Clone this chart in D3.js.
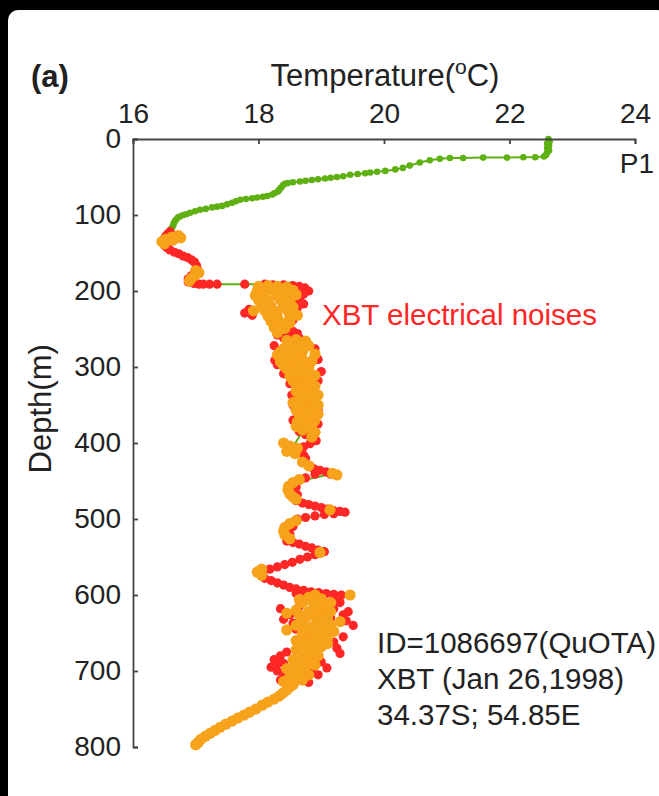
<!DOCTYPE html>
<html>
<head>
<meta charset="utf-8">
<script src="https://cdn.jsdelivr.net/npm/d3@7/dist/d3.min.js"></script>
<style>
  html, body { margin: 0; padding: 0; background: #000; }
  svg { display: block; }
  text { font-family: "Liberation Sans", Arial, sans-serif; fill: #222; }
  .axis path, .axis line { stroke: #444; stroke-width: 1.8; }
  .axis text { font-size: 28px; fill: #222; font-family: "Liberation Sans", Arial, sans-serif; }
</style>
</head>
<body>
<div id="chart"></div>
<script>
// Temperature ticks (top axis) and depth ticks (left axis)
var tempTicks = [16, 18, 20, 22, 24]
var depthTicks = [0, 100, 200, 300, 400, 500, 600, 700, 800]

// Full XBT profile, [temperature degC, depth m]
var profile = [
  [22.62,0],[22.64,3],[22.6,6],[22.63,9],[22.6,12],[22.63,15],[22.6,18],[22.58,21],[22.55,23],
  [22.41,24],[22.22,24],[21.96,24.5],[21.58,24.5],[21.26,25],[21.05,25],
  [20.89,26],[20.73,28],[20.57,31],[20.41,35],[20.3,38],[20.18,40],[20.02,42],[19.89,43],
  [19.78,44],[19.7,45],[19.58,46],[19.46,47],[19.35,49],[19.25,50],[19.15,51],[19.06,52],
  [18.95,53],[18.85,54],[18.75,55],[18.66,56],[18.55,57],[18.47,58],[18.42,59],[18.39,61],
  [18.36,64],[18.33,67],[18.31,69],[18.26,71],[18.22,73],[18.14,75],[18.07,76],[17.98,77],
  [17.9,78],[17.8,79],[17.71,80],[17.64,82],[17.58,84],[17.5,86],[17.42,88],[17.34,89],
  [17.26,90],[17.16,92],[17.07,93],[16.99,95],[16.91,97],[16.85,99],[16.8,100],[16.75,102],
  [16.72,103],[16.69,106],[16.67,108],[16.65,111],[16.64,114],[16.62,117],[16.6,119],[16.57,122],
  [16.5,130],[16.5,140],[16.7,150],[16.95,162],[17.0,172],[16.92,185],[17.1,191],[17.8,191],
  [18.5,192],[18.3,200],[18.15,215],[18.3,235],[18.45,255],[18.55,275],[18.65,300],[18.75,330],
  [18.8,360],[18.7,385],[18.55,405],[18.75,425],[19.2,440],[18.55,452],[18.5,470],[19.3,490],
  [18.6,501],[18.42,515],[18.5,530],[19.0,543],[18.0,570],[18.3,586],[19.45,600],[18.9,612],
  [18.85,640],[18.9,665],[18.7,690],[18.6,705],[18.5,720],[18.25,737],[17.96,750],[17.67,762],
  [17.39,774],[17.15,786],[17.0,797]
]

// Samples flagged as electrical noise (red)
var noiseRed = [
  [16.59,122],[16.55,125],[16.52,128],[16.49,132],[16.48,136],[16.5,140],[16.54,143],[16.59,146],
  [16.66,149],[16.73,151],[16.8,154],[16.87,156],[16.93,159],[16.98,162],[17.01,166],[17.02,170],
  [16.98,175],[16.93,180],[16.88,184],[16.88,188],[16.97,190],[17.05,191],[17.12,191],[17.22,191],
  [17.34,191],[17.78,191],[18.1,191],
  [18.23,192],[18.4,192],[18.55,193],[18.65,194],[18.74,196],[18.8,200],[18.72,204],[18.66,208],
  [18.6,212],[18.72,217],[18.62,222],[17.85,224],[17.78,229],[17.9,232],[18.55,238],[18.35,246],
  [18.45,250],[18.55,253],[18.62,256],[18.5,259],[18.65,262],[18.4,262],[18.3,258],
  [18.25,272],[18.9,276],[18.95,290],[18.26,291],[18.3,297],[19.0,306],[18.4,309],[18.95,318],
  [18.5,322],[18.53,337],[18.55,350],[18.95,356],[18.55,370],[18.95,375],
  [18.65,385],[18.75,389],[18.85,393],[18.92,397],[18.82,401],[18.72,405],[18.72,416],[18.75,420],
  [18.82,430],[18.88,434],[18.98,436],[19.08,438],[19.15,441],[18.9,441],[18.75,446],[18.6,458],
  [18.62,468],
  [18.6,476],[18.7,479],[18.8,481],[18.9,483],[19.0,485],[19.1,487],[19.2,489],[19.3,490],
  [19.38,491],[19.2,493],[19.05,494],[18.9,496],[18.75,498],[18.62,500],[18.55,510],[18.5,520],
  [18.45,529],[18.55,531],[18.65,533],[18.75,536],[18.85,538],[18.95,541],[19.05,543],
  [18.9,547],[18.78,550],[18.66,553],[18.54,557],[18.42,560],[18.3,563],[18.18,566],[18.07,569],
  [18.1,578],[18.2,581],[18.3,584],[18.4,587],[18.5,590],[18.6,592],[18.72,594],[18.84,596],
  [18.96,597],[19.08,598],[19.2,599],[19.32,600],
  [18.6,598],[18.75,603],[19.2,607],[19.3,610],[18.65,615],[19.2,618],[19.43,622],[18.5,626],
  [19.15,630],[18.55,637],[19.51,640],[19.2,648],[19.35,655],[18.75,658],[19.2,662],[19.25,670],
  [19.3,677],[18.35,680],[18.25,685],[18.4,690],[18.6,694],[18.2,695],[19.09,696],[18.85,698],
  [18.3,700],[18.4,705],[18.65,710],[18.35,712],[18.8,715],[18.45,720],
  [18.35,618],[18.4,632],[19.0,620],[19.35,626],[19.4,634],[18.9,628],[19.1,640],[18.6,645],
  [18.45,675],[18.3,690],[19.0,688],[18.95,705]
]

// Samples flagged by the second check (orange)
var noiseOrange = [
  [16.72,127],[16.62,129],[16.52,132],[16.46,135],[16.5,138],[16.64,133],[16.76,130],
  [17.0,173],[17.05,176],[16.98,180],[16.92,184],[16.9,187],
  [18.0,194],[18.15,193],[18.3,194],[18.45,195],[17.98,200],[18.1,199],[18.25,200],[18.4,201],
  [18.55,199],[17.95,206],[18.1,206],[18.3,207],[18.45,206],[18.6,205],[18.0,212],[18.15,213],
  [18.35,212],[18.5,213],[18.05,219],[18.2,220],[18.4,219],[18.55,221],[17.92,226],[18.1,226],
  [18.3,227],[18.48,228],[18.15,233],[18.3,234],[18.5,235],[18.62,232],[18.2,240],[18.35,241],
  [18.5,242],[18.25,248],[18.42,249],[18.3,255],
  [18.45,265],[18.6,264],[18.75,266],[18.5,268],[18.65,270],[18.8,272],[18.4,276],[18.55,278],
  [18.7,280],[18.35,280],[18.9,283],[18.3,284],[18.45,286],[18.6,288],[18.7,290],[18.85,292],
  [18.35,293],[18.5,295],[18.65,297],[18.4,298],[18.8,300],[18.55,300],[18.45,302],[18.7,302],
  [18.6,305],[18.75,307],[18.9,311],[18.5,312],[18.65,315],[18.8,318],[18.55,318],[18.7,320],
  [18.85,322],[18.6,323],[18.75,326],[18.9,325],[18.65,329],[18.8,330],
  [18.6,332],[18.8,334],[18.95,337],[18.7,338],[18.65,343],[18.85,345],[18.55,347],[18.75,348],
  [18.95,350],[18.7,352],[18.9,355],[18.6,357],[18.8,358],[18.75,360],[18.65,362],[18.95,362],
  [18.85,365],[18.7,367],[18.9,370],[18.62,372],[18.75,372],[18.85,376],[18.6,378],[18.8,380],
  [18.7,383],
  [18.9,386],[18.85,392],[18.4,400],[18.5,404],[18.62,407],[18.45,411],[18.58,414],[18.7,425],
  [18.8,430],[19.18,440],[19.25,442],
  [18.65,448],[18.55,452],[18.48,457],[18.47,462],[18.5,467],[18.55,471],[18.6,474],[19.14,488],
  [18.6,502],[18.5,506],[18.42,511],[18.4,516],[18.42,521],[18.5,526],[18.98,544],[18.05,566],
  [17.98,570],[18.05,574],[19.46,600],
  [18.9,600],[18.8,603],[19.0,605],[18.65,606],[18.85,608],[18.7,610],[19.15,610],[18.9,612],
  [19.05,615],[18.95,618],[18.6,620],[18.8,622],[19.15,622],[18.45,624],[19.0,625],[18.65,626],
  [18.9,628],[18.75,630],[19.1,632],[18.95,633],[19.3,635],[18.7,636],[18.95,638],[18.6,640],
  [19.15,640],[18.85,642],[19.05,645],[18.45,646],[18.75,646],[19.2,648],[18.7,650],[18.85,650],
  [18.95,652],[18.7,656],[19.1,657],[18.95,658],[18.6,660],[18.75,662],[18.85,663],[19.1,664],
  [18.7,667],[19.0,668],[18.9,671],[18.6,672],[18.8,675],[18.7,678],[18.95,680],[18.85,684],
  [18.55,685],[18.75,688],[18.6,690],[18.9,692],[18.75,695],[18.45,697],[18.65,700],[18.55,702],
  [18.8,705],[18.7,706],[18.5,708],[18.7,712],[18.6,712],[18.4,714],[18.5,716],
  [18.55,718],[18.5,721],[18.45,725],[18.39,729],[18.33,733],[18.25,737],[18.15,741],[18.06,745],
  [17.96,750],[17.86,754],[17.77,758],[17.67,762],[17.58,766],[17.48,770],[17.39,774],[17.31,778],
  [17.23,782],[17.15,786],[17.08,790],[17.04,794],[17.0,797]
]

var infoLines = ["ID=1086697(QuOTA)", "XBT (Jan 26,1998)", "34.37S; 54.85E"]

var width = 659
  , height = 796
  , green = "#5fb012"
  , red = "#ff2626"
  , orange = "#f7a21b"

var svg = d3.select("#chart").append("svg")
    .attr("width", width)
    .attr("height", height)

// white panel, black strip along top and left edge
svg.append("rect")
  .attr("x", 8).attr("y", 10)
  .attr("width", width).attr("height", height)
  .attr("rx", 10)
  .attr("fill", "#fff")

var x = d3.scaleLinear().domain([16, 24]).range([133, 635])
  , y = d3.scaleLinear().domain([0, 800]).range([139, 747])

var plot = svg.append("g")

// profile line + small dots
plot.append("path")
  .datum(profile)
  .attr("fill", "none")
  .attr("stroke", green)
  .attr("stroke-width", 2)
  .attr("d", d3.line().x(function(d) { return x(d[0]) }).y(function(d) { return y(d[1]) }))

plot.selectAll("circle.p").data(profile).enter()
  .append("circle")
    .attr("class", "p")
    .attr("cx", function(d) { return x(d[0]) })
    .attr("cy", function(d) { return y(d[1]) })
    .attr("r", 3.3)
    .attr("fill", green)

plot.selectAll("circle.r").data(noiseRed).enter()
  .append("circle")
    .attr("class", "r")
    .attr("cx", function(d) { return x(d[0]) })
    .attr("cy", function(d) { return y(d[1]) })
    .attr("r", 4.6)
    .attr("fill", red)

plot.selectAll("circle.o").data(noiseOrange).enter()
  .append("circle")
    .attr("class", "o")
    .attr("cx", function(d) { return x(d[0]) })
    .attr("cy", function(d) { return y(d[1]) })
    .attr("r", 5.6)
    .attr("fill", orange)

// axes, ticks pointing inward
svg.append("g")
  .attr("class", "axis")
  .attr("transform", "translate(0," + y(0) + ")")
  .call(d3.axisTop(x).tickValues(tempTicks).tickSize(-5).tickPadding(16).tickFormat(d3.format("d")))

svg.append("g")
  .attr("class", "axis")
  .attr("transform", "translate(" + x(16) + ",0)")
  .call(d3.axisLeft(y).tickValues(depthTicks).tickSize(-5).tickPadding(12).tickFormat(d3.format("d")))

svg.selectAll(".axis .domain").attr("stroke", "#444")

// titles and labels
svg.append("text")
  .attr("x", 31).attr("y", 87)
  .attr("font-size", 31).attr("font-weight", "bold")
  .text("(a)")

var title = svg.append("text")
  .attr("x", 385).attr("y", 86)
  .attr("text-anchor", "middle")
  .attr("font-size", 31)
title.append("tspan").text("Temperature(")
title.append("tspan").attr("font-size", 21).attr("dy", -12).text("o")
title.append("tspan").attr("dy", 12).text("C)")

svg.append("text")
  .attr("transform", "translate(51," + y(355) + ") rotate(-90)")
  .attr("text-anchor", "middle")
  .attr("font-size", 31)
  .text("Depth(m)")

svg.append("text")
  .attr("x", 654).attr("y", 173)
  .attr("text-anchor", "end")
  .attr("font-size", 28)
  .text("P1")

svg.append("text")
  .attr("x", 322).attr("y", 325)
  .attr("font-size", 29.5)
  .style("fill", red)
  .text("XBT electrical noises")

svg.selectAll("text.info").data(infoLines).enter()
  .append("text")
    .attr("class", "info")
    .attr("x", 377)
    .attr("y", function(d, i) { return 653 + i * 36 })
    .attr("font-size", 29.5)
    .text(function(d) { return d })
</script>
</body>
</html>
